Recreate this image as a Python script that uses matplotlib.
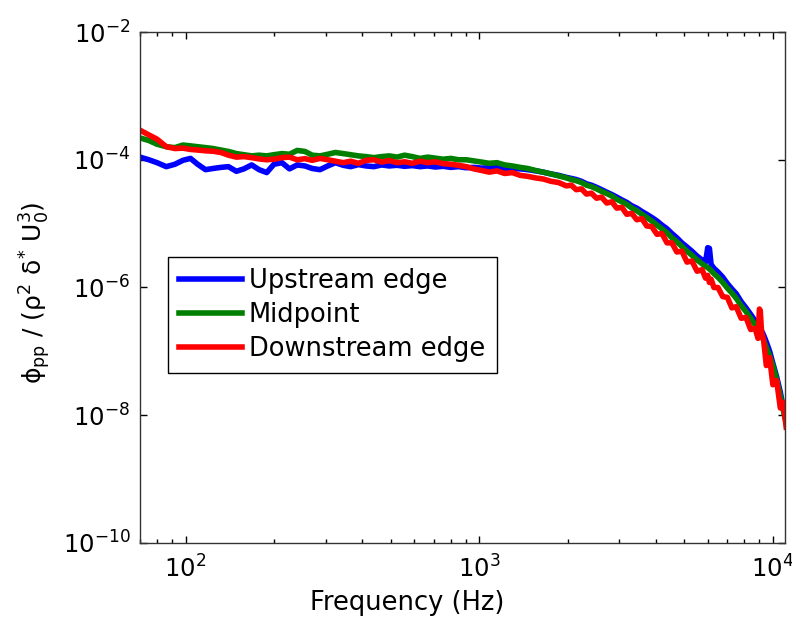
import matplotlib
matplotlib.use("Agg")
import matplotlib.pyplot as plt
from matplotlib.ticker import LogLocator, NullLocator

# frequency bins (Hz), shared by all three traces
freq = [70, 75, 80, 86, 92, 98, 104, 110, 117, 124,
        132, 140, 149, 158, 168, 178, 189, 200, 213, 226,
        240, 255, 270, 287, 305, 324, 344, 365, 388, 412,
        438, 465, 494, 525, 557, 592, 629, 668, 709, 753,
        800, 850, 903, 959, 1019, 1082, 1150, 1221, 1297, 1378,
        1464, 1555, 1652, 1755, 1864,
        1980, 2060, 2140, 2230, 2320, 2410, 2510, 2610, 2720, 2830,
        2940, 3060, 3180, 3310, 3440, 3580, 3720, 3870, 4030, 4190,
        4360, 4530, 4710, 4900, 5100, 5300, 5520, 5740, 5900, 6000,
        6080, 6160, 6300, 6500, 6750, 7000, 7250, 7500, 7800, 8100,
        8400, 8700, 8900, 9000, 9060, 9150, 9300, 9500, 9750, 10000,
        10300, 10600, 10850, 11100]

upstream = [1.1e-4, 1.0e-4, 9.0e-5, 7.8e-5, 8.5e-5, 9.8e-5, 1.05e-4, 8.5e-5, 7.0e-5, 7.3e-5,
            7.6e-5, 7.8e-5, 6.6e-5, 7.2e-5, 8.3e-5, 7.0e-5, 6.3e-5, 8.5e-5, 9.0e-5, 7.2e-5,
            8.3e-5, 8.0e-5, 7.3e-5, 7.0e-5, 8.0e-5, 9.0e-5, 8.2e-5, 7.8e-5, 8.4e-5, 8.0e-5,
            7.8e-5, 8.3e-5, 8.0e-5, 8.2e-5, 7.9e-5, 8.1e-5, 7.8e-5, 8.0e-5, 7.7e-5, 7.9e-5,
            7.6e-5, 7.8e-5, 7.5e-5, 7.6e-5, 7.4e-5, 7.5e-5, 7.6e-5, 7.4e-5, 7.3e-5, 7.2e-5,
            7.0e-5, 6.7e-5, 6.4e-5, 6.0e-5, 5.7e-5,
            5.3e-5, 5.1e-5, 4.9e-5, 4.6e-5, 4.2e-5, 4.0e-5, 3.7e-5, 3.4e-5, 3.1e-5, 2.85e-5,
            2.6e-5, 2.35e-5, 2.15e-5, 1.9e-5, 1.75e-5, 1.55e-5, 1.4e-5, 1.25e-5, 1.1e-5, 9.5e-6,
            8.3e-6, 7.0e-6, 6.0e-6, 5.0e-6, 4.3e-6, 3.7e-6, 3.1e-6, 2.7e-6, 2.5e-6, 4.2e-6,
            4.1e-6, 2.3e-6, 2.0e-6, 1.75e-6, 1.45e-6, 1.15e-6, 9.5e-7, 8.0e-7, 6.0e-7, 4.8e-7,
            3.8e-7, 3.0e-7, 2.6e-7, 2.4e-7, 2.3e-7, 2.1e-7, 1.8e-7, 1.4e-7, 1.0e-7, 6.5e-8,
            4.0e-8, 2.3e-8, 1.3e-8, 8.0e-9]

midpoint = [2.2e-4, 2.0e-4, 1.75e-4, 1.6e-4, 1.55e-4, 1.7e-4, 1.65e-4, 1.6e-4, 1.55e-4, 1.5e-4,
            1.42e-4, 1.35e-4, 1.25e-4, 1.2e-4, 1.15e-4, 1.18e-4, 1.15e-4, 1.2e-4, 1.25e-4, 1.22e-4,
            1.4e-4, 1.35e-4, 1.18e-4, 1.15e-4, 1.22e-4, 1.3e-4, 1.25e-4, 1.2e-4, 1.15e-4, 1.12e-4,
            1.08e-4, 1.12e-4, 1.15e-4, 1.1e-4, 1.18e-4, 1.12e-4, 1.05e-4, 1.1e-4, 1.06e-4, 1.02e-4,
            1.05e-4, 1.0e-4, 1.0e-4, 9.6e-5, 9.2e-5, 8.8e-5, 9.0e-5, 8.3e-5, 8.0e-5, 7.6e-5,
            7.3e-5, 6.8e-5, 6.4e-5, 6.0e-5, 5.6e-5,
            5.2e-5, 4.9e-5, 4.7e-5, 4.4e-5, 4.0e-5, 3.8e-5, 3.5e-5, 3.2e-5, 2.95e-5, 2.7e-5,
            2.4e-5, 2.2e-5, 2.0e-5, 1.75e-5, 1.6e-5, 1.4e-5, 1.25e-5, 1.1e-5, 9.5e-6, 8.3e-6,
            7.2e-6, 6.0e-6, 5.2e-6, 4.4e-6, 3.7e-6, 3.2e-6, 2.7e-6, 2.35e-6, 2.15e-6, 2.05e-6,
            1.95e-6, 1.85e-6, 1.65e-6, 1.45e-6, 1.2e-6, 9.8e-7, 8.2e-7, 6.8e-7, 5.2e-7, 4.2e-7,
            3.3e-7, 2.6e-7, 2.2e-7, 2.0e-7, 1.9e-7, 1.75e-7, 1.5e-7, 1.15e-7, 8.5e-8, 6.0e-8,
            3.6e-8, 2.0e-8, 1.2e-8, 7.5e-9]

downstream = [2.9e-4, 2.45e-4, 2.1e-4, 1.6e-4, 1.5e-4, 1.52e-4, 1.45e-4, 1.42e-4, 1.38e-4, 1.36e-4,
              1.3e-4, 1.18e-4, 1.1e-4, 1.12e-4, 1.08e-4, 1.03e-4, 1.0e-4, 1.02e-4, 1.08e-4, 1.1e-4,
              1.0e-4, 1.04e-4, 9.8e-5, 1.05e-4, 1.0e-4, 9.5e-5, 9.0e-5, 9.5e-5, 8.8e-5, 9.8e-5,
              1.0e-4, 9.2e-5, 9.7e-5, 9.0e-5, 9.3e-5, 8.8e-5, 9.5e-5, 9.0e-5, 9.3e-5, 8.7e-5,
              8.5e-5, 8.2e-5, 7.8e-5, 7.2e-5, 6.8e-5, 6.4e-5, 6.7e-5, 6.1e-5, 6.3e-5, 5.7e-5,
              5.5e-5, 5.2e-5, 5.0e-5, 4.6e-5, 4.4e-5,
              3.9e-5, 4.0e-5, 3.4e-5, 3.5e-5, 2.9e-5, 3.0e-5, 2.5e-5, 2.6e-5, 2.1e-5, 2.2e-5,
              1.75e-5, 1.8e-5, 1.4e-5, 1.45e-5, 1.15e-5, 1.2e-5, 9.2e-6, 9.0e-6, 6.8e-6, 7.0e-6,
              5.0e-6, 5.0e-6, 3.6e-6, 3.7e-6, 2.5e-6, 2.6e-6, 1.8e-6, 1.9e-6, 1.4e-6, 1.55e-6,
              1.2e-6, 1.35e-6, 1.0e-6, 1.0e-6, 7.2e-7, 7.0e-7, 4.8e-7, 5.0e-7, 3.3e-7, 3.4e-7,
              2.2e-7, 2.3e-7, 1.6e-7, 4.6e-7, 4.3e-7, 2.0e-7, 1.5e-7, 6.0e-8, 8.0e-8, 3.0e-8,
              3.5e-8, 1.3e-8, 1.6e-8, 6.5e-9]

labels = ["Upstream edge", "Midpoint", "Downstream edge"]
colors = ["#0000ff", "#007f00", "#ff0000"]


def plot_spectra(ax):
    for vals, lab, col in zip([upstream, midpoint, downstream], labels, colors):
        ax.loglog(freq, vals, color=col, lw=4, label=lab)

    ax.set_xlim(70, 1.1e4)
    ax.set_ylim(1e-10, 1e-2)
    ax.yaxis.set_major_locator(LogLocator(base=100.0))
    ax.yaxis.set_minor_locator(NullLocator())
    ax.tick_params(which="both", direction="in", top=True, right=True, labelsize=17.5)
    ax.tick_params(which="major", length=5, width=1)
    ax.tick_params(which="minor", length=3, width=1)
    ax.tick_params(axis="x", which="both", pad=9)
    ax.tick_params(axis="y", which="both", pad=7)
    for sp in ax.spines.values():
        sp.set_linewidth(1.0)
        sp.set_color("#333333")

    ax.set_xlabel("Frequency (Hz)", fontsize=18.5)
    ax.xaxis.set_label_coords(0.414, -0.093)
    # greek letters as plain unicode, mathtext only for the sub/superscripts
    ax.set_ylabel("\u03d5$_{pp}$ / (\u03c1$^{2}$ \u03b4$^{*}$ U$_{0}^{3}$)", fontsize=18)
    ax.yaxis.set_label_coords(-0.135, 0.49)

    leg = ax.legend(loc="upper left", bbox_to_anchor=(0.043, 0.56), borderaxespad=0,
                    fontsize=18.5, handlelength=2.45, handletextpad=0.25, labelspacing=0.3,
                    borderpad=0.45, fancybox=False, framealpha=1, edgecolor="black")
    leg.get_frame().set_linewidth(1.0)
    return ax


if __name__ == "__main__":
    plt.rcParams["font.family"] = "DejaVu Sans"
    plt.rcParams["mathtext.fontset"] = "dejavusans"
    plt.rcParams["mathtext.default"] = "regular"

    fig = plt.figure(figsize=(7.92, 6.28), dpi=100)
    ax = fig.add_axes([0.1768, 0.1354, 0.8144, 0.8136])
    plot_spectra(ax)
    fig.savefig("out.png", dpi=100)
